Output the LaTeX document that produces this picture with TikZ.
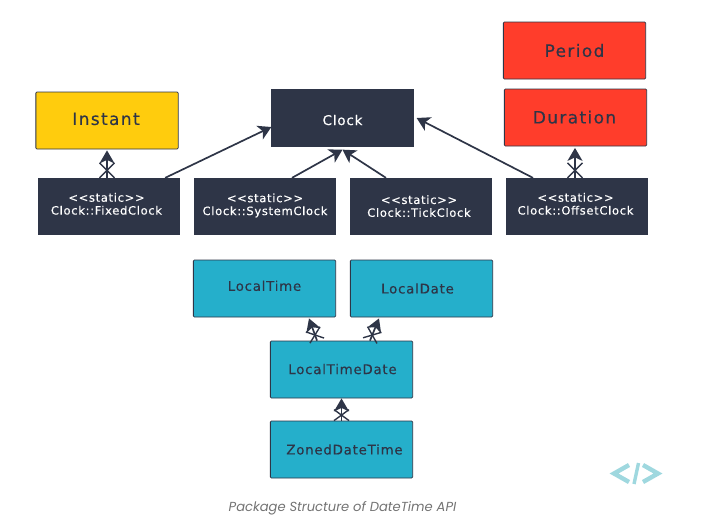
\documentclass[tikz,border=0pt]{standalone}
\usepackage{fontspec}
\setmainfont{DejaVu Sans}
\newfontfamily\capfont{Poppins}
\newfontfamily\boxfont[LetterSpace=6,FakeBold=0.3]{DejaVu Sans}
\newfontfamily\bigfont[LetterSpace=8,FakeBold=0.3]{DejaVu Sans}
\usetikzlibrary{arrows.meta,decorations.markings}
\definecolor{navy}{HTML}{2E3547}
\definecolor{amber}{HTML}{FFCC0D}
\definecolor{tomato}{HTML}{FF3D2B}
\definecolor{teal}{HTML}{25AFCB}
\definecolor{logo}{HTML}{9FD8DF}
\tikzset{
	box/.style={draw=navy, line width=.8pt, rounded corners=1pt, minimum width=142.3pt, minimum height=57pt, inner sep=0pt, align=center, text=navy},
	instantbox/.style={box, fill=amber, font=\bigfont\fontsize{17}{19}\selectfont},
	redbox/.style={box, fill=tomato, font=\bigfont\fontsize{17}{19}\selectfont},
	darkbox/.style={box, fill=navy, rounded corners=0pt, minimum width=141.5pt, minimum height=56.5pt, text=white, font=\boxfont\fontsize{11.5}{14}\selectfont},
	bluebox/.style={box, fill=teal, font=\boxfont\fontsize{13.3}{15}\selectfont},
	link/.style={draw=navy, line width=1.7pt, -{Stealth[length=13pt,width=15pt,inset=3.5pt]}},
	many/.style={link, postaction={decorate}, decoration={markings, mark=at position #1 with {\draw[-, navy, line width=1.4pt] (-#1,-7.5pt) -- (#1,7.5pt) (-#1,7.5pt) -- (#1,-7.5pt);}}},
	many/.default=7.5pt
}
\begin{document}
\begin{tikzpicture}[x=1pt, y=-1pt]
	\useasboundingbox (0,0) rectangle (701,523);

	\node[redbox] (period) at (574.5,50.5) {Period};
	\node[redbox] (duration) at (575.5,117.5) {\raisebox{1pt}{\hspace{-2pt}Duration}};
	\node[instantbox] (instant) at (107,120.5) {\raisebox{3.5pt}{\hspace{-2pt}Instant}};
	\node[darkbox, font=\boxfont\fontsize{13.5}{15}\selectfont] (clock) at (342.5,118) {\raisebox{-2pt}[\height][\depth]{Clock}};

	\node[darkbox] (fixed) at (109,206.5) {\raisebox{5.5pt}{\hspace{-5pt}\shortstack{<{}<static>{}>\\[1pt]Clock::FixedClock}}};
	\node[darkbox] (system) at (265,206.5) {\raisebox{4.5pt}{\shortstack{<{}<static>{}>\\[1pt]Clock::SystemClock}}};
	\node[darkbox] (tick) at (421,206.5) {\raisebox{1pt}{\hspace{-4pt}\shortstack{<{}<static>{}>\\[1pt]Clock::TickClock}}};
	\node[darkbox] (offset) at (577,206.5) {\raisebox{5.5pt}{\hspace{-3pt}\shortstack{<{}<static>{}>\\[1pt]Clock::OffsetClock}}};

	\node[bluebox] (localtime) at (264.5,288.5) {\raisebox{5.5pt}{LocalTime}};
	\node[bluebox] (localdate) at (421.5,288.5) {\hspace{-8pt}LocalDate};
	\node[bluebox] (localtimedate) at (341.5,369.5) {\raisebox{1pt}{\hspace{2pt}LocalTimeDate}};
	\node[bluebox] (zoned) at (341.5,449.5) {\hspace{6pt}ZonedDateTime};

	\draw[many] ([xshift=-2pt]fixed.north) -- ([yshift=-1pt]instant.south);
	\draw[many] ([xshift=-2pt]offset.north) -- ([xshift=-.5pt,yshift=-1.5pt]duration.south);
	\draw[many=6pt] ([xshift=-24.5pt]localtimedate.north) -- ([xshift=44.5pt,yshift=-1pt]localtime.south);
	\draw[many=6pt] ([xshift=28.5pt]localtimedate.north) -- ([xshift=-42.5pt,yshift=-1pt]localdate.south);
	\draw[many=5.5pt] (zoned.north) -- (localtimedate.south);

	\draw[link] ([xshift=-15pt]fixed.north east) -- ([yshift=-9pt]clock.west);
	\draw[link] ([xshift=27pt]system.north) -- ([yshift=-3pt]clock.south);
	\draw[link] ([xshift=-35pt]tick.north) -- ([yshift=-3pt]clock.south);
	\draw[link] ([xshift=-44pt]offset.north) -- ([xshift=3pt]clock.east);

	% logo
	\draw[logo, line width=4.4pt, miter limit=10] (629,465) -- (614,473.5) -- (629,482);
	\draw[logo, line width=4.4pt, miter limit=10] (643,465) -- (658,473.5) -- (643,482);
	\draw[logo, line width=3.4pt] (638.5,463) -- (634,484);

	\node[text=black!55, font=\capfont\itshape\fontsize{13.1}{15}\selectfont] (caption) at (342.5,508.5) {Package Structure of DateTime API};
\end{tikzpicture}
\end{document}
